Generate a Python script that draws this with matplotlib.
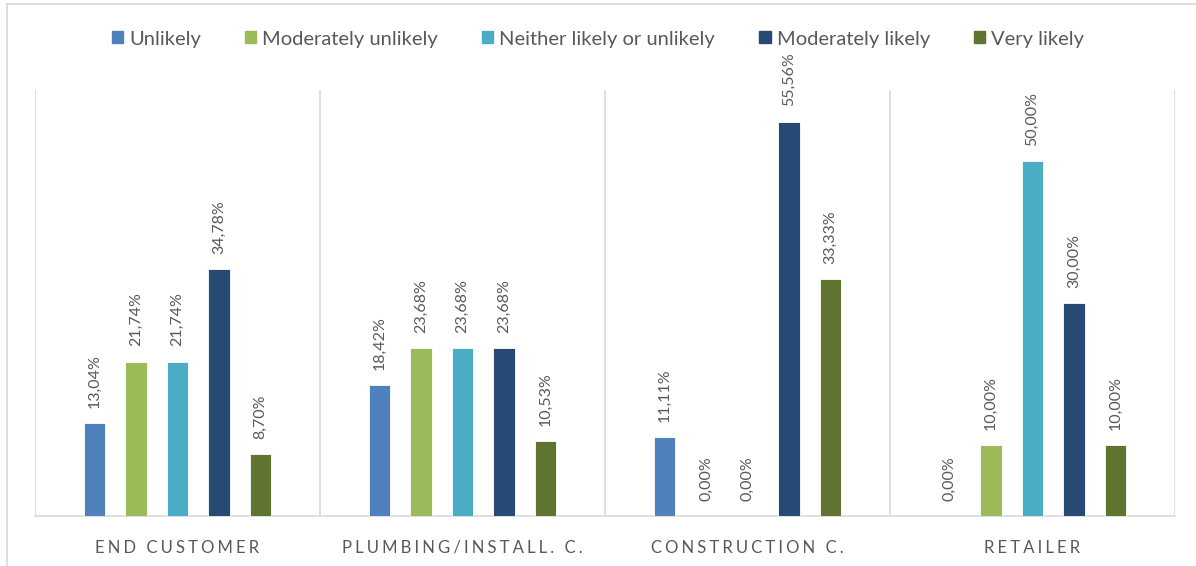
import matplotlib
matplotlib.use("Agg")
import matplotlib.pyplot as plt
from matplotlib.lines import Line2D
import numpy as np

categories = ["END CUSTOMER", "PLUMBING/INSTALL. C.", "CONSTRUCTION C.", "RETAILER"]
series_names = ["Unlikely", "Moderately unlikely", "Neither likely or unlikely",
                "Moderately likely", "Very likely"]
unlikely = [13.04, 18.42, 11.11, 0.00]
moderately_unlikely = [21.74, 23.68, 0.00, 10.00]
neither = [21.74, 23.68, 0.00, 50.00]
moderately_likely = [34.78, 23.68, 55.56, 30.00]
very_likely = [8.70, 10.53, 33.33, 10.00]
series_values = [unlikely, moderately_unlikely, neither, moderately_likely, very_likely]
colors = ["#4F81BD", "#9BBB59", "#4BACC6", "#274A74", "#5E742F"]

plt.rcParams["font.family"] = ["Lato", "DejaVu Sans"]
text_gray = "#595959"
grid_gray = "#D9D9D9"

fig = plt.figure(figsize=(11.96, 5.66), dpi=100)
ax = fig.add_axes([35 / 1196, 1 - 516 / 566, 1140 / 1196, 426 / 566])

x = np.arange(len(categories))
step = 0.1456
width = 0.077
offsets = (np.arange(len(series_names)) - 2) * step

for vals, name, col, off in zip(series_values, series_names, colors, offsets):
    bars = ax.bar(x + off, vals, width=width, color=col, edgecolor="white",
                  linewidth=0.6, label=name, zorder=3)
    for b, v in zip(bars, vals):
        ax.annotate(f"{v:.2f}".replace(".", ",") + "%",
                    xy=(b.get_x() + b.get_width() / 2, v),
                    xytext=(0, 11), textcoords="offset points",
                    rotation=90, ha="center", va="bottom",
                    fontsize=11.5, color=text_gray, zorder=4)

ax.set_xlim(-0.5, len(categories) - 0.5)
ax.set_ylim(0, 60)
ax.set_yticks([])
for s in ["top", "right", "left"]:
    ax.spines[s].set_visible(False)
ax.spines["bottom"].set_color(grid_gray)
ax.spines["bottom"].set_linewidth(1.2)

# group separators
for sx in np.arange(-0.5, len(categories), 1.0):
    ax.axvline(sx, color=grid_gray, linewidth=1.2, zorder=1)

# letter-spaced category names
spaced = ["\u2009\u200a".join(list(c)) for c in categories]
ax.set_xticks(x)
ax.set_xticklabels(spaced, fontsize=12, color=text_gray)
ax.tick_params(axis="x", length=0, pad=17)

handles = [plt.Rectangle((0, 0), 1, 1, color=c) for c in colors]
fig.legend(handles, series_names, loc="center", bbox_to_anchor=(0.5, 1 - 39 / 566),
           ncol=5, frameon=False, fontsize=14.5, handlelength=0.55, handleheight=0.55,
           handletextpad=0.3, columnspacing=2.2, labelcolor=text_gray)

# outer chart frame
fig.add_artist(Line2D([7 / 1196, 7 / 1196], [0, 1 - 4 / 566], transform=fig.transFigure,
                      color=grid_gray, linewidth=1.2))
fig.add_artist(Line2D([7 / 1196, 1], [1 - 4 / 566, 1 - 4 / 566], transform=fig.transFigure,
                      color=grid_gray, linewidth=1.2))

fig.savefig("out.png", dpi=100)
